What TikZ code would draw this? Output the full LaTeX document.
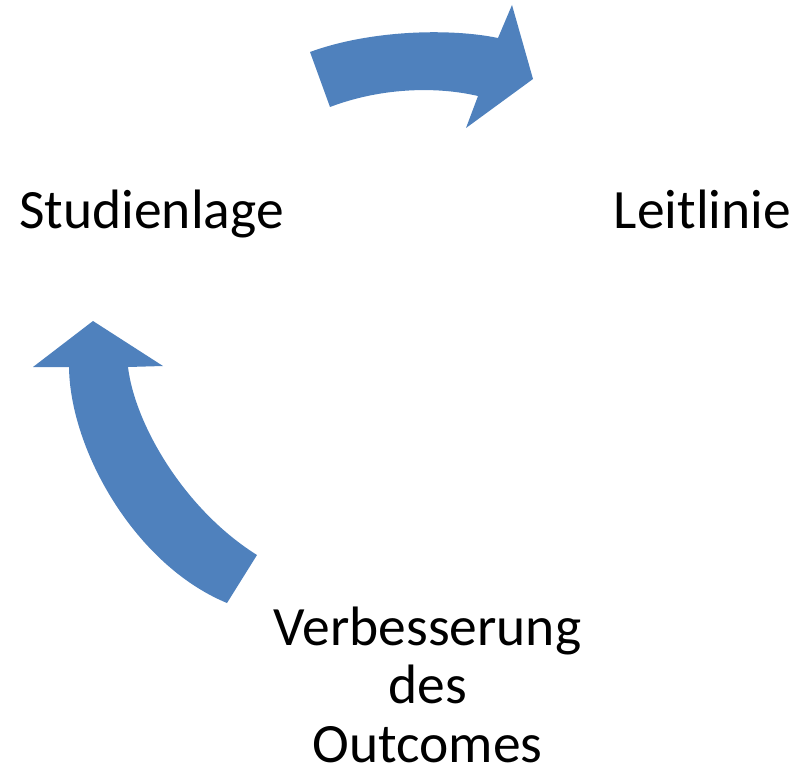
\documentclass[tikz,border=0pt]{standalone}
\usepackage{fontspec}
\setmainfont{Carlito}
\definecolor{arrowblue}{HTML}{4F81BD}
\begin{document}
\begin{tikzpicture}[x=1pt,y=-1pt,
  label/.style={inner sep=0pt,font=\fontsize{55.5}{58.5}\selectfont,text=black},
  blockarrow/.style={fill=arrowblue,draw=none}]
\useasboundingbox (0,0) rectangle (795,773);
% labels
\node[label,anchor=base] (studien) at (151.5,228) {Studienlage};
\node[label,anchor=base] (leit) at (702.5,228) {Leitlinie};
\node[label,anchor=base,align=center] (verb) at (427.5,762) {Verbesserung\\des\\Outcomes};
% top arrow
\path[blockarrow] (310,52) .. controls (370,30) and (450,28) .. (498,38)
  -- (512,5) -- (533,79) -- (466,128) -- (478,96)
  .. controls (435,86) and (380,88) .. (330,107) -- cycle;
% left arrow
\path[blockarrow] (69,367) -- (33,367) -- (93,321) -- (163,366) -- (128,367)
  .. controls (135,425) and (185,510) .. (257,555) -- (227,603)
  .. controls (135,565) and (70,450) .. (69,367) -- cycle;
\end{tikzpicture}
\end{document}
